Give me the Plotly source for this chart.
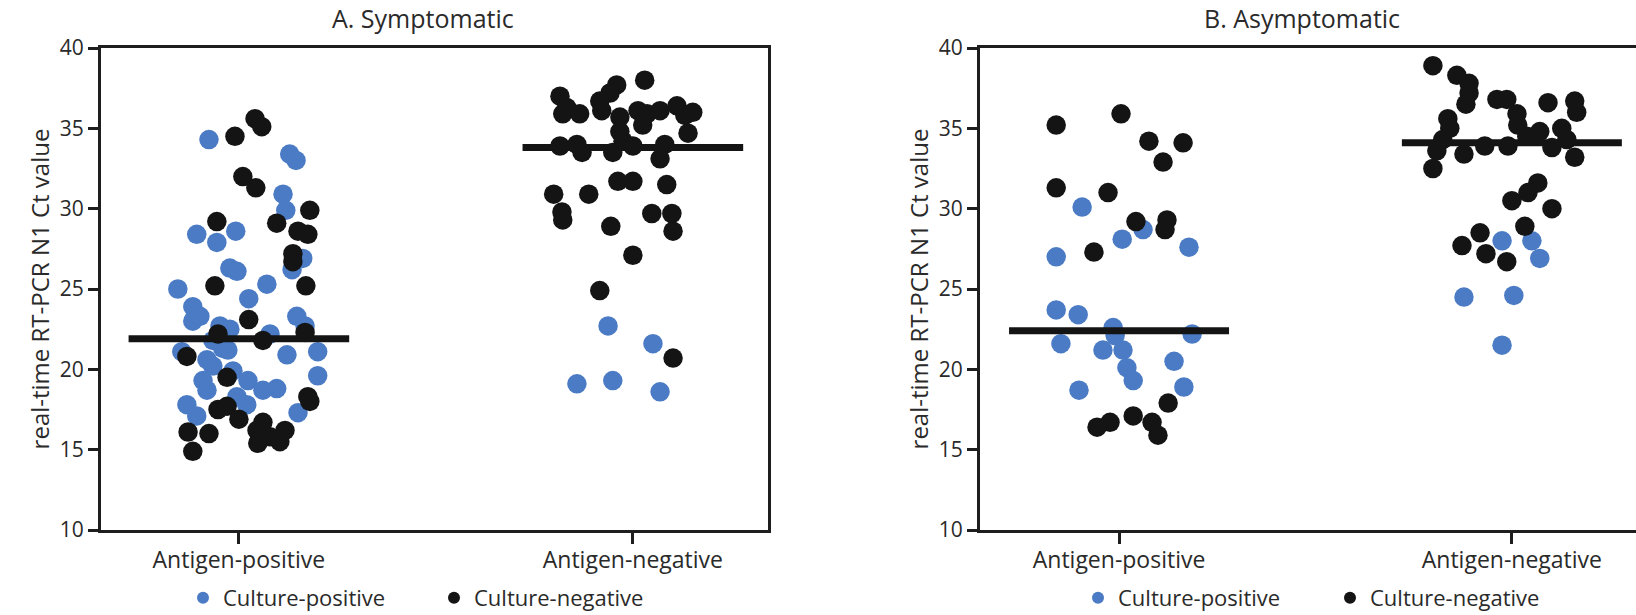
import plotly.graph_objects as go

# ---------------- data ----------------
categories = ["Antigen-positive", "Antigen-negative"]
panel_titles = ["A. Symptomatic", "B. Asymptomatic"]
series_names = ["Culture-positive", "Culture-negative"]
y_title = "real-time RT-PCR N1 Ct value"
y_ticks = [10, 15, 20, 25, 30, 35, 40]

# Panel A, antigen-positive
a_pos_blue_ct = [34.3, 33.4, 33.0, 30.9, 29.9, 28.4, 27.9, 28.6, 26.3, 26.1, 25.0, 25.3, 24.4, 26.9, 26.2,
                 23.9, 23.3, 23.0, 23.3, 22.7, 22.5, 22.7, 22.2, 21.1, 20.9, 21.1, 19.6, 21.3, 20.2, 20.6,
                 19.9, 19.3, 18.7, 18.8, 18.7, 19.3, 17.8, 17.1, 17.8, 18.3, 17.3, 21.8, 21.2]
a_pos_blue_jit = [-0.076, 0.129, 0.145, 0.112, 0.119, -0.107, -0.056, -0.008, -0.023, -0.005, -0.155, 0.071,
                  0.025, 0.162, 0.135, -0.117, 0.147, -0.117, -0.099, -0.048, -0.023, 0.168, 0.079, -0.145,
                  0.122, 0.200, 0.200, -0.041, -0.066, -0.081, -0.015, 0.023, 0.061, 0.096, -0.081, -0.091,
                  -0.132, -0.107, 0.020, -0.005, 0.150, -0.066, -0.028]
a_pos_black_ct = [34.5, 35.6, 35.1, 32.0, 31.3, 29.2, 29.1, 29.9, 28.6, 28.4, 27.2, 26.7, 25.2, 25.2, 23.1,
                  22.2, 21.8, 22.3, 20.8, 19.5, 18.3, 18.0, 17.5, 17.7, 16.9, 16.1, 16.0, 14.9, 16.7, 16.2,
                  15.4, 15.8, 15.5, 16.2]
a_pos_black_jit = [-0.010, 0.041, 0.058, 0.010, 0.043, -0.056, 0.096, 0.180, 0.150, 0.175, 0.137, 0.137,
                   -0.061, 0.170, 0.025, -0.053, 0.061, 0.168, -0.132, -0.030, 0.175, 0.180, -0.053, -0.030,
                   0.000, -0.129, -0.076, -0.117, 0.061, 0.046, 0.048, 0.079, 0.104, 0.117]
# Panel A, antigen-negative
a_neg_blue_ct = [22.7, 21.6, 19.1, 19.3, 18.6]
a_neg_blue_jit = [-0.063, 0.051, -0.142, -0.051, 0.069]
a_neg_black_ct = [38.0, 37.7, 37.2, 37.0, 36.3, 35.9, 35.9, 36.7, 36.1, 35.7, 36.1, 35.9, 35.2, 36.1, 36.4,
                  35.8, 36.0, 34.7, 34.8, 34.2, 33.9, 34.0, 33.5, 33.5, 33.9, 34.0, 33.1, 31.7, 31.7, 31.5,
                  30.9, 30.9, 29.8, 29.3, 29.7, 29.7, 28.6, 28.9, 27.1, 24.9, 20.7]
a_neg_black_jit = [0.030, -0.041, -0.058, -0.185, -0.168, -0.178, -0.135, -0.084, -0.079, -0.033, 0.013, 0.036,
                   0.025, 0.069, 0.112, 0.132, 0.152, 0.140, -0.033, -0.025, -0.185, -0.142, -0.129, -0.051,
                   0.000, 0.081, 0.069, -0.038, 0.000, 0.086, -0.201, -0.112, -0.180, -0.178, 0.048, 0.099,
                   0.102, -0.056, 0.000, -0.084, 0.102]
# Panel B, antigen-positive
b_pos_blue_ct = [30.1, 27.0, 28.1, 28.7, 27.6, 23.7, 23.4, 22.6, 22.1, 21.6, 21.2, 21.2, 20.1, 19.3, 20.5,
                 22.2, 18.7, 18.9]
b_pos_blue_jit = [-0.094, -0.160, 0.008, 0.061, 0.178, -0.160, -0.104, -0.015, -0.010, -0.148, -0.041, 0.010,
                  0.020, 0.036, 0.140, 0.186, -0.102, 0.165]
b_pos_black_ct = [35.2, 35.9, 34.2, 34.1, 32.9, 31.3, 31.0, 27.3, 29.2, 29.3, 28.7, 17.9, 16.4, 16.7, 17.1,
                  16.7, 15.9]
b_pos_black_jit = [-0.160, 0.005, 0.076, 0.163, 0.112, -0.160, -0.028, -0.064, 0.043, 0.122, 0.117, 0.125,
                   -0.056, -0.023, 0.036, 0.084, 0.099]
# Panel B, antigen-negative
b_neg_blue_ct = [28.0, 28.0, 26.9, 24.5, 24.6, 21.5]
b_neg_blue_jit = [-0.025, 0.051, 0.071, -0.122, 0.005, -0.025]
b_neg_black_ct = [38.9, 38.3, 37.8, 37.2, 36.5, 36.8, 36.8, 35.9, 36.6, 36.7, 36.0, 35.6, 35.0, 34.3, 33.6,
                  32.5, 33.4, 33.9, 33.9, 35.2, 34.5, 34.8, 33.8, 35.0, 34.3, 33.2, 31.6, 31.0, 30.5, 30.0,
                  28.9, 28.5, 27.7, 27.2, 26.7]
b_neg_black_jit = [-0.201, -0.140, -0.109, -0.109, -0.117, -0.038, -0.013, 0.013, 0.092, 0.160, 0.165, -0.163,
                   -0.158, -0.176, -0.191, -0.201, -0.122, -0.069, -0.010, 0.015, 0.038, 0.071, 0.102, 0.127,
                   0.140, 0.160, 0.066, 0.041, 0.000, 0.102, 0.033, -0.081, -0.127, -0.066, -0.013]

a_medians = [21.9, 33.8]
b_medians = [22.4, 34.1]

# ---------------- styles ----------------
BLUE = "#4a7bc4"
BLACK = "#141414"
AXIS = "#1e1e1e"
TEXT = "#2a2a2a"
FONT = "Open Sans"
W, H = 1636, 615
MED_HALF = 0.28


def px_x(p):
    return p / W


def px_y(p):
    return 1 - p / H


fig = go.Figure()

panels = [
    dict(xa="x", ya="y", legs=("legend", "legend2"),
         groups=[(a_pos_blue_ct, a_pos_blue_jit, a_neg_blue_ct, a_neg_blue_jit),
                 (a_pos_black_ct, a_pos_black_jit, a_neg_black_ct, a_neg_black_jit)],
         medians=a_medians),
    dict(xa="x2", ya="y2", legs=("legend3", "legend4"),
         groups=[(b_pos_blue_ct, b_pos_blue_jit, b_neg_blue_ct, b_neg_blue_jit),
                 (b_pos_black_ct, b_pos_black_jit, b_neg_black_ct, b_neg_black_jit)],
         medians=b_medians),
]
colors = [BLUE, BLACK]

for p in panels:
    for gi, (pos_ct, pos_j, neg_ct, neg_j) in enumerate(p["groups"]):
        xs = [0 + j for j in pos_j] + [1 + j for j in neg_j]
        ys = list(pos_ct) + list(neg_ct)
        fig.add_trace(go.Scatter(
            x=xs, y=ys, mode="markers", name=series_names[gi],
            marker=dict(color=colors[gi], size=19.5, line=dict(width=0)),
            xaxis=p["xa"], yaxis=p["ya"], legend=p["legs"][gi], showlegend=True,
        ))
    for ci, m in enumerate(p["medians"]):
        fig.add_trace(go.Scatter(
            x=[ci - MED_HALF, ci + MED_HALF], y=[m, m], mode="lines",
            line=dict(color=BLACK, width=7), showlegend=False, hoverinfo="skip",
            xaxis=p["xa"], yaxis=p["ya"],
        ))

axis_common = dict(showgrid=False, zeroline=False, showline=True, linecolor=AXIS, linewidth=3,
                   ticks="outside", tickcolor=AXIS, automargin=False)
xfont = dict(family=FONT, size=23, color=TEXT)
yfont = dict(family=FONT, size=21, color=TEXT)
ytfont = dict(family=FONT, size=24, color=TEXT)

y_dom = [px_y(530), px_y(48)]
fig.update_layout(
    template="none",
    width=W, height=H, margin=dict(l=0, r=0, t=0, b=0, autoexpand=False),
    plot_bgcolor="white", paper_bgcolor="white",
    font=dict(family=FONT, size=21, color=TEXT),
    xaxis=dict(axis_common, domain=[px_x(101), px_x(768)], range=[-0.35, 1.343], mirror=True,
               tickvals=[0, 1], ticktext=categories, ticklen=11, tickwidth=3, anchor="y",
               tickfont=xfont, ticklabelstandoff=-4),
    yaxis=dict(axis_common, domain=y_dom, range=[10, 40], mirror=True, tickvals=y_ticks,
               ticklen=10, tickwidth=2.5, anchor="x", tickfont=yfont,
               title=dict(text=y_title, font=ytfont, standoff=4)),
    xaxis2=dict(axis_common, domain=[px_x(980), 1.0], range=[-0.354, 1.316], mirror=True,
                tickvals=[0, 1], ticktext=categories, ticklen=11, tickwidth=3, anchor="y2",
                tickfont=xfont, ticklabelstandoff=-4),
    yaxis2=dict(axis_common, domain=y_dom, range=[10, 40], mirror=False, tickvals=y_ticks,
                ticklen=10, tickwidth=2.5, anchor="x2", tickfont=yfont,
                title=dict(text=y_title, font=ytfont, standoff=4)),
)

leg_common = dict(orientation="h", yanchor="middle", xanchor="left", bgcolor="rgba(0,0,0,0)",
                  xref="container", yref="container", borderwidth=0,
                  font=dict(family=FONT, size=22, color=TEXT), itemsizing="constant")
leg_marker_px = [212, 463, 1107, 1359]
for name, mx in zip(["legend", "legend2", "legend3", "legend4"], leg_marker_px):
    fig.update_layout({name: dict(leg_common, x=px_x(mx - 29), y=px_y(598))})

for t, cx in zip(panel_titles, [423, 1302]):
    fig.add_annotation(text=t, xref="paper", yref="paper", x=px_x(cx), y=px_y(18),
                       xanchor="center", yanchor="middle", showarrow=False,
                       font=dict(family=FONT, size=25, color=TEXT))

fig.write_html("out.html", config={"displayModeBar": False},
               post_script="document.body.style.margin='0';")
